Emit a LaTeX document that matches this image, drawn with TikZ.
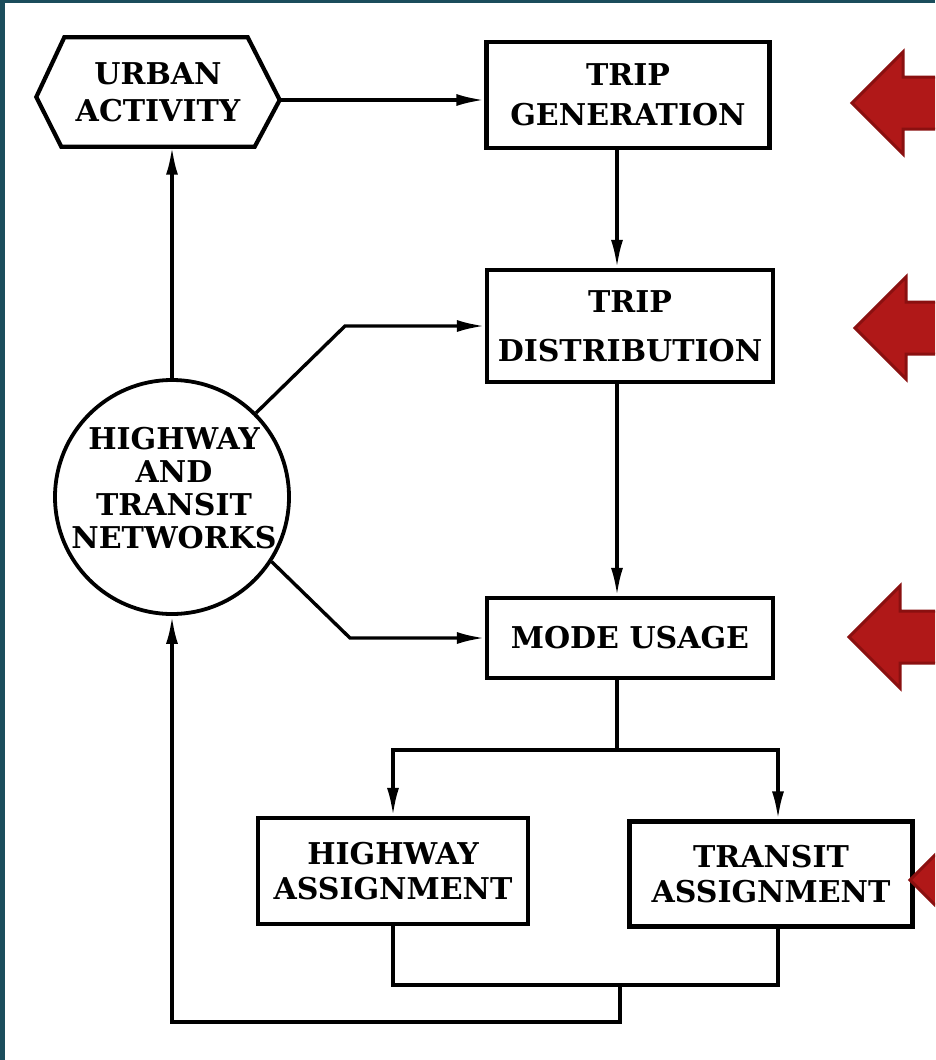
\documentclass[tikz,border=0pt]{standalone}
\usepackage{fontspec}
\setmainfont{DejaVu Serif}
\usetikzlibrary{positioning,arrows.meta}

\definecolor{framecol}{HTML}{1B4D5C}
\definecolor{arrowred}{HTML}{B01818}
\definecolor{arrowedge}{HTML}{8A1010}

\newcommand{\boxfont}{\bfseries\fontsize{30}{35}\selectfont}
\newcommand{\netfont}{\bfseries\fontsize{30}{33}\selectfont}

\tikzset{
  box/.style={draw, line width=4.2pt, minimum width=283pt, minimum height=106pt,
    inner sep=3pt, align=center, font=\boxfont},
  wire/.style={line width=3.4pt},
  flow/.style={wire, -{Latex[length=28pt,width=12pt]}},
  redarrow/.style={fill=arrowred, draw=arrowedge, line width=3pt, line join=miter},
}

\begin{document}
\begin{tikzpicture}[x=1pt, y=-1pt]
\useasboundingbox (0,0) rectangle (935,1060);
\fill[framecol] (0,0) rectangle (935,1060);
\fill[white] (5,3) rectangle (935,1060);

% main column
\node[box] (gen) at (628,95) {TRIP\\[5pt]GENERATION};
\node[box, minimum width=286pt, minimum height=112pt] (dist) at (630,326) {TRIP\\[14pt]DISTRIBUTION};
\node[box, minimum width=286pt, minimum height=80pt] (mode) at (630,638) {MODE USAGE};
\node[box, minimum width=270pt] (hwy) at (393,871) {HIGHWAY\\ASSIGNMENT};
\node[box, minimum height=105pt] (trn) at (771,874) {TRANSIT\\ASSIGNMENT};

% urban activity hexagon
\node[font=\boxfont, align=center, minimum width=243pt, minimum height=109pt, inner sep=0] (urban) at (158,92) {URBAN\\[2pt]ACTIVITY};
\coordinate (urbantip) at ([yshift=-8pt]urban.east);
\draw[line width=4.2pt] ([yshift=-5pt]urban.west) -- ([xshift=28pt]urban.north west)
  -- ([xshift=-32pt]urban.north east) -- (urbantip)
  -- ([xshift=-25pt]urban.south east) -- ([xshift=25pt]urban.south west) -- cycle;

% networks
\node[circle, draw, line width=3.8pt, minimum size=234pt, inner sep=0] (net) at (172,497) {};
\node[font=\netfont, align=center, inner sep=0] (netlabel) at (174,488) {HIGHWAY\\AND\\TRANSIT\\NETWORKS};

\coordinate (spine) at (617,0);
\coordinate (bendd) at (345,326);
\coordinate (bendm) at (350,638);
\coordinate (split) at (617,750);
\coordinate (join) at (620,985);
\coordinate (trnin) at ([xshift=7pt]trn.north);
\coordinate (trnout) at ([xshift=7pt]trn.south);

\draw[flow] (urbantip) -- (urbantip -| gen.west);
\draw[flow] (gen.south -| spine) -- (dist.north -| spine);
\draw[flow] (dist.south -| spine) -- (mode.north -| spine);
\draw[flow] (net.north) -- (net.north |- urban.south);
\draw[flow] (net.45) -- (bendd) -- (dist.west);
\draw[flow] (net.-33) -- (bendm) -- (mode.west);
\draw[wire] (mode.south -| spine) -- (split);
\draw[flow] (split) -| (hwy.north);
\draw[flow] (split) -| (trnin);
\draw[wire] (hwy.south) |- (join);
\draw[wire] (trnout) |- (join);
\draw[flow] (join) -- ++(0,37) -| (net.south);

% red pointers on the right
\begin{scope}
\clip (0,0) rectangle (935,1060);
\foreach \tx/\ty in {852/103, 855/328, 849/637, 910/880}
  \draw[redarrow] (\tx,\ty) -- ++(51,-51) -- ++(0,25) -- ++(70,0) -- ++(0,52)
    -- ++(-70,0) -- ++(0,25) -- cycle;
\end{scope}
\end{tikzpicture}
\end{document}
